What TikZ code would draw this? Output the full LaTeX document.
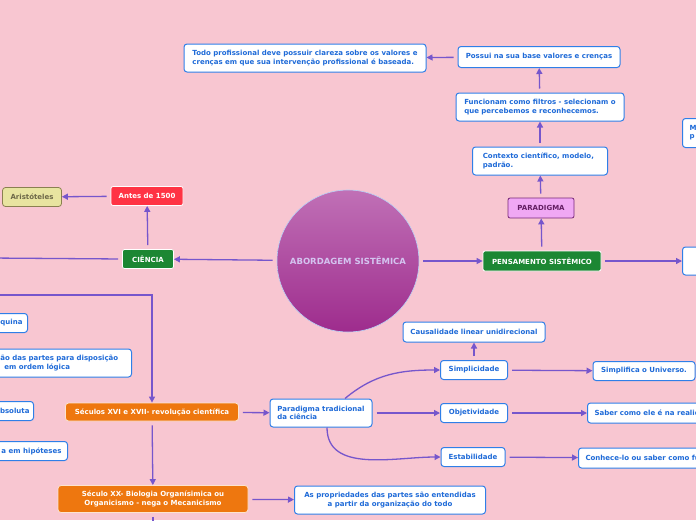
\documentclass[tikz,border=0pt]{standalone}
\usepackage{fontspec}
\setmainfont{DejaVu Sans}
\usepackage{xcolor}
\usetikzlibrary{arrows.meta, shapes.geometric}

\definecolor{fundo}{HTML}{F8C6D1}
\definecolor{roxo}{HTML}{7656CC}
\definecolor{azul}{HTML}{2F7FE8}
\definecolor{textoazul}{HTML}{1E6AD8}
\definecolor{verde}{HTML}{1C8733}
\definecolor{laranja}{HTML}{EE770F}
\definecolor{vermelho}{HTML}{FF3344}

\begin{document}
\begin{tikzpicture}[
		x=1pt, y=-1pt,
		line width=1.3pt,
		every node/.style={font=\bfseries\fontsize{7}{8.2}\selectfont},
		caixa/.style={draw=azul, fill=white, rounded corners=3pt, line width=1pt, text=textoazul, inner xsep=7pt, inner ysep=2pt},
		verdebox/.style={draw=white, fill=verde, rounded corners=2pt, line width=0.8pt, text=white, inner sep=2pt},
		laranjabox/.style={draw=white!80!laranja, fill=laranja, rounded corners=3pt, line width=0.8pt, text=white, inner sep=2pt},
		seta/.style={roxo, -{Triangle[length=6pt,width=6pt]}, shorten <=4pt},
		linha/.style={roxo, shorten <=4pt}
		]
	
	% Fundo
	\useasboundingbox (0,0) rectangle (696,520);
	\fill[fundo] (0,0) rectangle (696,520);
	\clip (0,0) rectangle (696,520);
	
	% Centro
	\node[circle, minimum size=142pt, draw=azul!35!white, line width=0.6pt, top color={rgb,255:red,192;green,112;blue,182}, bottom color={rgb,255:red,158;green,44;blue,141}, text={rgb,255:red,212;green,196;blue,240}, font=\bfseries\fontsize{8.5}{10}\selectfont] (centro) at (348,261) {ABORDAGEM SISTÊMICA};
	
	% Pensamento sistemico
	\node[verdebox, minimum width=118pt, minimum height=20pt] (pensamento) at (542,261) {PENSAMENTO SISTÊMICO};
	\node[draw={rgb,255:red,120;green,40;blue,120}, fill={rgb,255:red,240;green,168;blue,244}, rounded corners=2pt, line width=0.8pt, text={rgb,255:red,100;green,30;blue,100}, minimum width=66pt, minimum height=20pt] (paradigma) at (541,208) {PARADIGMA};
	\node[caixa, minimum width=135pt, minimum height=28pt, align=left] (contexto) at (540,161) {Contexto científico, modelo,\\padrão.\hspace*{84pt}};
	\node[caixa, minimum width=168pt, minimum height=28pt, align=left] (filtros) at (540,107) {Funcionam como filtros - selecionam o\\que percebemos e reconhecemos.};
	\node[caixa, minimum width=162pt, minimum height=21pt] (base) at (539,57) {Possui na sua base valores e crenças};
	\node[caixa, minimum width=242pt, minimum height=28pt, align=left] (clareza) at (305,58) {Todo profissional deve possuir clareza sobre os valores e\\crenças em que sua intervenção profissional é baseada.};
	\node[caixa, anchor=north west, minimum height=29pt, text width=60pt, align=left] (direita1) at (682,118) {M\\p};
	\node[caixa, anchor=west, minimum height=28pt, minimum width=40pt] (direita2) at (682,261) {};
	
	% Ciencia
	\node[verdebox, minimum width=51pt, minimum height=19pt] (ciencia) at (148,259) {CIÊNCIA};
	\node[draw=white, fill=vermelho, rounded corners=2pt, line width=0.8pt, text=white, minimum width=72pt, minimum height=19pt] (antes) at (147,196) {Antes de 1500};
	\node[draw={rgb,255:red,138;green,128;blue,80}, fill={rgb,255:red,232;green,228;blue,160}, rounded corners=3pt, line width=0.8pt, text={rgb,255:red,110;green,104;blue,72}, minimum width=59pt, minimum height=19pt] (aristoteles) at (32,197) {Aristóteles};
	\coordinate (fora1) at (-10,258);
	\coordinate (fora2) at (-10,295);
	
	% Seculos
	\node[laranjabox, minimum width=173pt, minimum height=18pt] (seculos) at (152,412) {Séculos XVI e XVII- revolução científica};
	\node[laranjabox, minimum width=190pt, minimum height=27pt, align=center] (seculoxx) at (153,499) {Século XX- Biologia Organísimica ou\\Organicismo - nega o Mecanicismo};
	\node[caixa, minimum width=191pt, minimum height=28pt, align=center] (propriedades) at (390,500) {As propriedades das partes são entendidas\\a partir da organização do todo};
	\coordinate (fora3) at (153,530);
	
	% Fragmentos a esquerda
	\node[caixa, anchor=east, minimum height=19pt, inner xsep=5pt] (maquina) at (28,323) {quina};
	\node[caixa, anchor=east, minimum height=28pt, text width=124pt, align=left] (partes) at (132,363) {ão das partes para disposição\\\hspace*{4pt}em ordem lógica};
	\node[caixa, anchor=east, minimum height=19pt, inner xsep=4pt] (absoluta) at (34,411) {bsoluta};
	\node[caixa, anchor=east, minimum height=19pt, inner xsep=6pt] (hipoteses) at (68,451) {a em hipóteses};
	
	% Paradigma tradicional
	\node[caixa, minimum width=102pt, minimum height=28pt, align=left] (tradicional) at (321,413) {Paradigma tradicional\\da ciência\hspace*{44pt}};
	\node[caixa, minimum width=67pt, minimum height=19pt] (simplicidade) at (474,370) {Simplicidade};
	\node[caixa, minimum width=142pt, minimum height=20pt] (causalidade) at (474,332) {Causalidade linear unidirecional};
	\node[caixa, minimum width=67pt, minimum height=19pt] (objetividade) at (474,413) {Objetividade};
	\node[caixa, minimum width=64pt, minimum height=19pt] (estabilidade) at (473,457) {Estabilidade};
	\node[caixa, minimum width=102pt, minimum height=19pt] (simplifica) at (644,371) {Simplifica o Universo.};
	\node[caixa, anchor=west, minimum height=20pt] (saber) at (587,413) {Saber como ele é na realidade.};
	\node[caixa, anchor=west, minimum height=20pt] (conhece) at (578,458) {Conhece-lo ou saber como funciona.};
	
	% Ligacoes
	\draw[seta] (centro) -- (pensamento);
	\draw[seta] (centro) -- (ciencia);
	\draw[seta] (pensamento) -- (paradigma);
	\draw[seta] (paradigma) -- (contexto);
	\draw[seta] (contexto) -- (filtros);
	\draw[seta] (filtros) -- (base);
	\draw[seta] (base) -- (clareza);
	\draw[seta] (pensamento) -- (direita2);
	\draw[seta] (ciencia) -- (antes);
	\draw[seta] (antes) -- (aristoteles);
	\draw[linha] (ciencia.west) -- (fora1);
	\draw[seta, shorten <=0pt] (fora2) -| (seculos.north);
	\draw[seta] (seculos) -- (tradicional);
	\draw[seta] (seculos) -- (seculoxx);
	\draw[seta] (seculoxx) -- (propriedades);
	\draw[linha] (seculoxx.south) -- (fora3);
	\draw[seta, shorten <=0pt] ([xshift=24pt]tradicional.north) to[out=40, in=180] (simplicidade.west);
	\draw[seta] (tradicional) -- (objetividade);
	\draw[seta, shorten <=0pt] ([xshift=6pt]tradicional.south) to[out=-90, in=180] (estabilidade.west);
	\draw[seta] (simplicidade) -- (causalidade);
	\draw[seta] (simplicidade) -- (simplifica);
	\draw[seta] (objetividade) -- (saber);
	\draw[seta] (estabilidade) -- (conhece);
	
\end{tikzpicture}
\end{document}
